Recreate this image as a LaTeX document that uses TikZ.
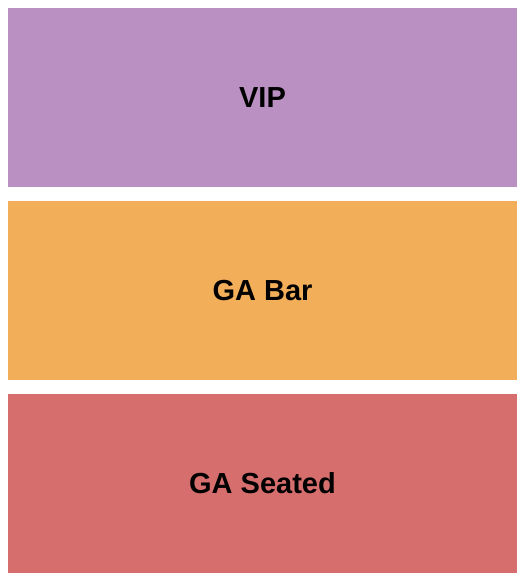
\documentclass[tikz,border=0pt]{standalone}
\usepackage{fontspec}
\setmainfont{Liberation Sans}
\usepackage{tikz}
\usetikzlibrary{positioning}
\usepackage{xcolor}

\definecolor{vipcolor}{HTML}{BA90C2}
\definecolor{barcolor}{HTML}{F2AE59}
\definecolor{seatcolor}{HTML}{D76E6E}

\begin{document}
\begin{tikzpicture}[x=1pt, y=1pt, node distance=14pt]

    % Define the style for the sections
    \tikzset{section/.style={rectangle, inner sep=0pt, minimum width=509pt, minimum height=179pt,
        font=\fontsize{29}{34}\selectfont\bfseries, text=black}}

    \useasboundingbox (0,0) rectangle (525,-580);

    % Nodes
    \node[section, fill=vipcolor] (vip) at (262.5,-97.5) {VIP};
    \node[section, fill=barcolor, below=of vip] (gabar) {GA Bar};
    \node[section, fill=seatcolor, below=13pt of gabar] (gaseated) {GA Seated};
\end{tikzpicture}
\end{document}
